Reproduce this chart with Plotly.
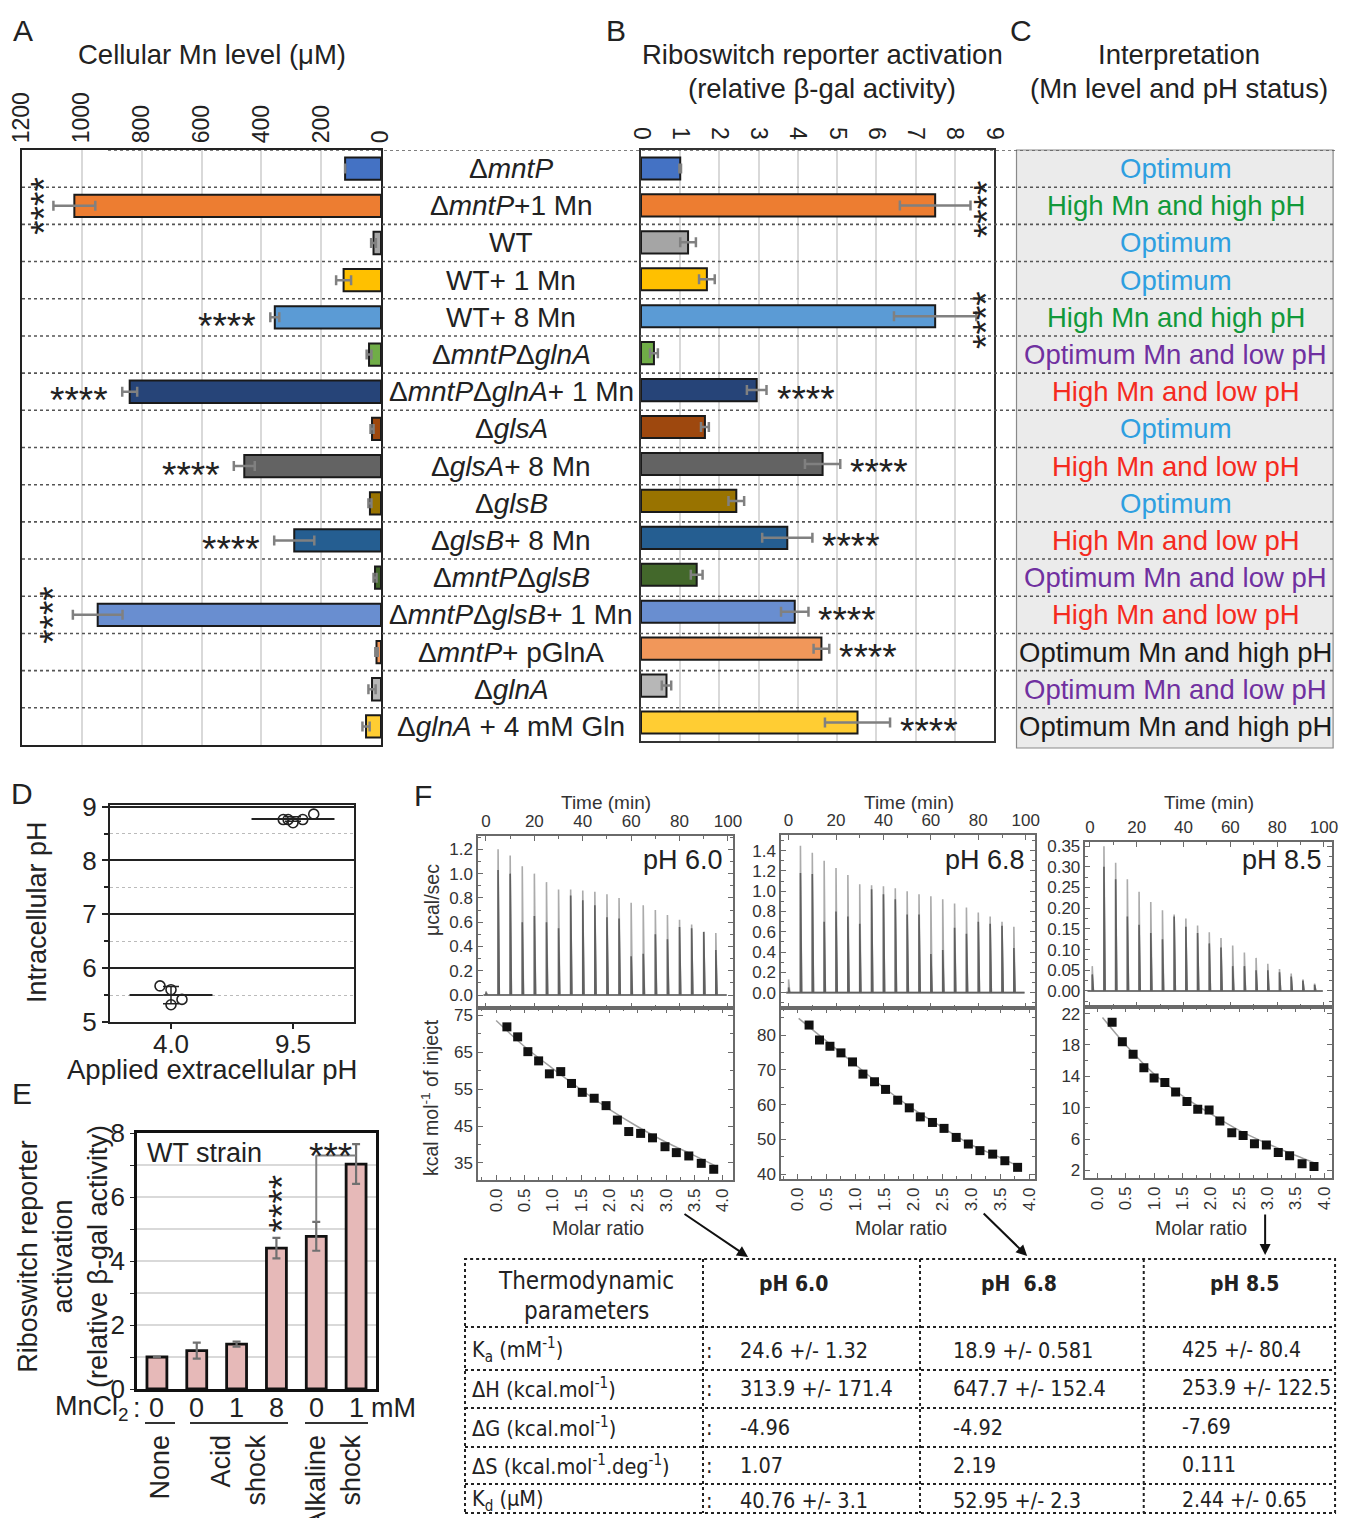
import plotly.graph_objects as go

OFF = 8                      # page body margin of the html page
W, H = 1347 - OFF, 1526 - 2 * OFF
VIS_R = 1337                 # right-most visible pixel column of the photographed page
def mx(p):
    # keep the right-most region inside the visible part of the page
    return p if p <= 1000 else 1000 + (p - 1000) * (VIS_R - 1000) / (1347 - 1000)
def fx(p): return (mx(p) - OFF) / W
def fy(p): return 1 - (p - OFF) / H

FONT = "Arial, 'Liberation Sans', sans-serif"
NARROW = "'Liberation Sans Narrow', 'Arial Narrow', 'DejaVu Sans Condensed', sans-serif"
TXT = "#222222"

# ---------------- data : panels A, B, C ----------------
strains = ["Δ<i>mntP</i>", "Δ<i>mntP</i>+1 Mn", "WT", "WT+ 1 Mn", "WT+ 8 Mn",
           "Δ<i>mntP</i>Δ<i>glnA</i>", "Δ<i>mntP</i>Δ<i>glnA</i>+ 1 Mn", "Δ<i>glsA</i>",
           "Δ<i>glsA</i>+ 8 Mn", "Δ<i>glsB</i>", "Δ<i>glsB</i>+ 8 Mn", "Δ<i>mntP</i>Δ<i>glsB</i>",
           "Δ<i>mntP</i>Δ<i>glsB</i>+ 1 Mn", "Δ<i>mntP</i>+ pGlnA", "Δ<i>glnA</i>",
           "Δ<i>glnA</i> + 4 mM Gln"]
bar_colors = ["#4472C4", "#ED7D31", "#A5A5A5", "#FFC000", "#5B9BD5", "#70AD47", "#264478",
              "#9E480E", "#636363", "#997300", "#255E91", "#43682B", "#698ED0", "#F1975A",
              "#B7B7B7", "#FFCD33"]
mn_level = [120, 1025, 25, 125, 355, 40, 840, 30, 457, 37, 290, 20, 947, 15, 30, 50]
mn_err = [0, 70, 8, 25, 15, 8, 25, 5, 35, 5, 67, 5, 83, 4, 12, 12]
mn_sig = ["", "****", "", "", "****", "", "****", "", "****", "", "****", "", "****", "", "", ""]
ribo_act = [1.0, 7.5, 1.2, 1.68, 7.5, 0.33, 2.95, 1.63, 4.63, 2.43, 3.73, 1.42, 3.92, 4.6, 0.65, 5.52]
ribo_err = [0.02, 0.9, 0.2, 0.2, 1.05, 0.1, 0.25, 0.1, 0.45, 0.2, 0.64, 0.15, 0.35, 0.2, 0.12, 0.83]
ribo_sig = ["", "****", "", "", "****", "", "****", "", "****", "", "****", "", "****", "****", "", "****"]
interp_text = ["Optimum", "High Mn and high pH", "Optimum", "Optimum", "High Mn and high pH",
               "Optimum Mn and low pH", "High Mn and low pH", "Optimum", "High Mn and low pH",
               "Optimum", "High Mn and low pH", "Optimum Mn and low pH", "High Mn and low pH",
               "Optimum Mn and high pH", "Optimum Mn and low pH", "Optimum Mn and high pH"]
interp_colors = {"Optimum": "#2E9FE0", "High Mn and high pH": "#11993A",
                 "Optimum Mn and low pH": "#7030A0", "High Mn and low pH": "#F52A1E",
                 "Optimum Mn and high pH": "#1A1A1A"}
a_ticks = [0, 200, 400, 600, 800, 1000, 1200]
b_ticks = [0, 1, 2, 3, 4, 5, 6, 7, 8, 9]

# ---------------- data : panel D ----------------
d_groups = ["4.0", "9.5"]
d_pts_y = [[5.67, 5.60, 5.42, 5.32], [8.76, 8.76, 8.70, 8.76, 8.86]]
d_pts_dx = [[-0.09, 0.0, 0.09, 0.0], [-0.08, -0.04, 0.0, 0.08, 0.17]]
d_mean = [5.50, 8.77]
d_sd = [0.16, 0.04]
d_ticks = [5, 6, 7, 8, 9]

# ---------------- data : panel E ----------------
e_vals = [1.0, 1.2, 1.4, 4.4, 4.77, 7.03]
e_err = [0.0, 0.25, 0.08, 0.32, 0.45, 0.62]
e_mncl2 = ["0", "0", "1", "8", "0", "1"]
e_ticks = [0, 2, 4, 6, 8]

# ---------------- data : panel F (ITC) ----------------
inj_t_60 = [0, 5, 10, 15, 20, 25, 30, 35, 40, 45, 50, 55, 60, 65, 70, 75, 80, 85, 90, 95]
peak_60 = [0.03, 1.20, 1.15, 1.06, 1.00, 0.93, 0.87, 0.87, 0.86, 0.85, 0.83, 0.80, 0.76,
           0.74, 0.70, 0.66, 0.62, 0.58, 0.52, 0.51]
dark_60 = [0.02, 1.03, 1.00, 0.60, 0.65, 0.60, 0.55, 0.82, 0.78, 0.74, 0.64, 0.63, 0.32,
           0.34, 0.50, 0.46, 0.56, 0.55, 0.52, 0.37]
ratio_60 = [0.19, 0.38, 0.56, 0.75, 0.94, 1.14, 1.33, 1.52, 1.73, 1.94, 2.14, 2.34, 2.55,
            2.76, 2.98, 3.18, 3.40, 3.62, 3.84]
heat_60 = [71.8, 69.1, 65.1, 62.6, 59.1, 59.7, 56.5, 54.1, 52.5, 50.5, 46.6, 43.5, 43.0,
           41.8, 39.4, 37.8, 36.9, 34.9, 33.3]
fit_x_60 = [0.0, 0.5, 1.0, 1.5, 2.0, 2.5, 3.0, 3.5, 3.9]
fit_y_60 = [73.5, 66.5, 60.5, 54.8, 49.5, 44.8, 40.6, 37.0, 34.0]

inj_t_68 = [0, 5, 10, 15, 20, 25, 30, 35, 40, 45, 50, 55, 60, 65, 70, 75, 80, 85, 90, 95]
peak_68 = [0.13, 1.45, 1.38, 1.30, 1.23, 1.16, 1.07, 1.06, 1.05, 1.03, 1.00, 0.97, 0.95,
           0.92, 0.88, 0.84, 0.79, 0.75, 0.70, 0.65]
dark_68 = [0.05, 1.18, 1.17, 0.70, 0.80, 0.75, 0.68, 1.02, 0.97, 0.92, 0.77, 0.77, 0.38,
           0.42, 0.64, 0.58, 0.70, 0.68, 0.66, 0.44]
ratio_68 = [0.20, 0.38, 0.56, 0.75, 0.95, 1.13, 1.33, 1.52, 1.73, 1.93, 2.12, 2.33, 2.53,
            2.74, 2.95, 3.15, 3.37, 3.58, 3.80]
heat_68 = [82.9, 78.6, 76.8, 74.9, 72.3, 68.8, 66.6, 64.4, 61.3, 59.1, 56.5, 54.9, 53.2,
           50.6, 48.7, 46.8, 45.8, 43.9, 42.0]
fit_x_68 = [0.02, 0.5, 1.0, 1.5, 2.0, 2.5, 3.0, 3.5, 3.85]
fit_y_68 = [84.8, 78.3, 71.5, 64.8, 58.7, 53.5, 48.5, 44.8, 42.0]

inj_t_85 = [1, 6, 11, 16, 21, 26, 31, 36, 41, 46, 51, 56, 61, 66, 71, 76, 81, 86, 91, 96]
peak_85 = [0.06, 0.35, 0.31, 0.27, 0.24, 0.215, 0.195, 0.185, 0.175, 0.158, 0.142, 0.128,
           0.110, 0.093, 0.080, 0.066, 0.053, 0.042, 0.028, 0.018]
dark_85 = [0.04, 0.30, 0.27, 0.18, 0.16, 0.14, 0.125, 0.18, 0.155, 0.14, 0.115, 0.105,
           0.06, 0.06, 0.05, 0.05, 0.045, 0.035, 0.025, 0.015]
ratio_85 = [0.26, 0.44, 0.63, 0.82, 1.00, 1.19, 1.38, 1.58, 1.77, 1.97, 2.16, 2.37, 2.57,
            2.77, 2.98, 3.19, 3.39, 3.61, 3.82]
heat_85 = [20.9, 18.4, 16.8, 15.1, 13.8, 13.2, 12.0, 10.8, 9.8, 9.7, 8.3, 6.8, 6.45,
           5.4, 5.25, 4.28, 3.86, 2.85, 2.5]
fit_x_85 = [0.09, 0.5, 1.0, 1.5, 2.0, 2.5, 3.0, 3.5, 3.85]
fit_y_85 = [21.5, 18.0, 14.3, 11.5, 9.2, 7.1, 5.4, 3.9, 2.9]

time_ticks = [0, 20, 40, 60, 80, 100]
ratio_ticks = [0.0, 0.5, 1.0, 1.5, 2.0, 2.5, 3.0, 3.5, 4.0]
uticks_60 = [0.0, 0.2, 0.4, 0.6, 0.8, 1.0, 1.2]
uticks_68 = [0.0, 0.2, 0.4, 0.6, 0.8, 1.0, 1.2, 1.4]
uticks_85 = [0.0, 0.05, 0.10, 0.15, 0.20, 0.25, 0.30, 0.35]
lticks_60 = [35, 45, 55, 65, 75]
lticks_68 = [40, 50, 60, 70, 80]
lticks_85 = [2, 6, 10, 14, 18, 22]

# ---------------- data : table ----------------
tbl_headers = ["<b>pH 6.0</b>", "<b>pH  6.8</b>", "<b>pH 8.5</b>"]
tbl_params = ["K<sub>a</sub> (mM<sup>-1</sup>)", "ΔH (kcal.mol<sup>-1</sup>)",
              "ΔG (kcal.mol<sup>-1</sup>)", "ΔS (kcal.mol<sup>-1</sup>.deg<sup>-1</sup>)",
              "K<sub>d</sub> (μM)"]
tbl_60 = ["24.6 +/- 1.32", "313.9 +/- 171.4", "-4.96", "1.07", "40.76 +/- 3.1"]
tbl_68 = ["18.9 +/- 0.581", "647.7 +/- 152.4", "-4.92", "2.19", "52.95 +/- 2.3"]
tbl_85 = ["425 +/- 80.4", "253.9 +/- 122.5", "-7.69", "0.111", "2.44 +/- 0.65"]

# ====================================================================
fig = go.Figure()
ann = []
shapes = []
STAR = 37

def text(px, py, s, size=25, color=TXT, xanchor="center", yanchor="middle", angle=0,
         family=FONT, align="center"):
    ann.append(dict(xref="paper", yref="paper", x=fx(px), y=fy(py), text=s, showarrow=False,
                    font=dict(size=size, color=color, family=family), xanchor=xanchor,
                    yanchor=yanchor, textangle=angle, align=align))

def pline(x0, y0, x1, y1, color=TXT, width=2, dash="solid"):
    shapes.append(dict(type="line", xref="paper", yref="paper", x0=fx(x0), x1=fx(x1),
                       y0=fy(y0), y1=fy(y1), line=dict(color=color, width=width, dash=dash)))

# ---------------- Panel C background ----------------
shapes.append(dict(type="rect", xref="paper", yref="paper", x0=fx(1017), x1=fx(1343),
                   y0=fy(748), y1=fy(150), fillcolor="#EBEBEB",
                   line=dict(color="#8A8A8A", width=1.2), layer="below"))

# ---------------- Panel A ----------------
fig.add_trace(go.Bar(x=mn_level, y=strains, orientation="h", xaxis="x", yaxis="y",
                     marker=dict(color=bar_colors, line=dict(color="#1a1a1a", width=2)),
                     width=0.6,
                     error_x=dict(type="data", array=mn_err, color="#808080",
                                  thickness=2.5, width=5)))
# ---------------- Panel B ----------------
fig.add_trace(go.Bar(x=ribo_act, y=strains, orientation="h", xaxis="x2", yaxis="y2",
                     marker=dict(color=bar_colors, line=dict(color="#1a1a1a", width=2)),
                     width=0.6,
                     error_x=dict(type="data", array=ribo_err, color="#808080",
                                  thickness=2.5, width=5)))

# row separators (dotted) across A, labels, B, C
for i in range(1, 16):
    shapes.append(dict(type="line", xref="paper", yref="y", x0=fx(22), x1=fx(1345),
                       y0=i - 0.5, y1=i - 0.5,
                       line=dict(color="#555555", width=1.6, dash="dot")))
for yv in (-0.5, 15.55):
    shapes.append(dict(type="line", xref="paper", yref="y", x0=fx(108), x1=fx(1345),
                       y0=yv, y1=yv, line=dict(color="#555555", width=1.6, dash="dot")))

for i, s in enumerate(strains):
    ann.append(dict(xref="paper", yref="y", x=fx(511), y=i, text=s, showarrow=False,
                    font=dict(size=28, color=TXT, family=FONT), xanchor="center",
                    yanchor="middle"))
    ann.append(dict(xref="paper", yref="y", x=fx(1181), y=i, text=interp_text[i],
                    showarrow=False, font=dict(size=27.5, color=interp_colors[interp_text[i]],
                                               family=FONT), xanchor="center",
                    yanchor="middle"))

# significance stars panel A
for i, s in enumerate(mn_sig):
    if not s:
        continue
    if i in (1, 12):
        ann.append(dict(xref="paper", yref="y", x=fx(38 if i == 1 else 47), y=i, text=s,
                        showarrow=False, textangle=-90, xshift=7, xanchor="center",
                        yanchor="middle", font=dict(size=STAR, color=TXT, family=FONT)))
    else:
        ann.append(dict(xref="x", yref="y", x=mn_level[i] + mn_err[i], y=i, text=s,
                        showarrow=False, xanchor="right", yanchor="middle", xshift=-12,
                        yshift=-9, font=dict(size=STAR, color=TXT, family=FONT)))
# significance stars panel B
for i, s in enumerate(ribo_sig):
    if not s:
        continue
    if i in (1, 4):
        ann.append(dict(xref="paper", yref="y2", x=fx(980), y=i + 0.1, text=s,
                        showarrow=False, textangle=-90, xshift=7, xanchor="center",
                        yanchor="middle", font=dict(size=STAR, color=TXT, family=FONT)))
    else:
        ann.append(dict(xref="x2", yref="y2", x=ribo_act[i] + ribo_err[i], y=i, text=s,
                        showarrow=False, xanchor="left", yanchor="middle", xshift=8,
                        yshift=-9, font=dict(size=STAR, color=TXT, family=FONT)))

# titles
text(23, 30, "A", size=30)
text(616, 30, "B", size=30)
text(1022, 30, "C", size=30)
text(212, 55, "Cellular Mn level (μM)", size=27.5)
text(822, 55, "Riboswitch reporter activation", size=27.5)
text(822, 88, "(relative β-gal activity)", size=27.5)
text(1184, 55, "Interpretation", size=27.5)
text(1184, 88, "(Mn level and pH status)", size=27.5)

# ---------------- Panel D ----------------
for g in range(2):
    fig.add_trace(go.Scatter(x=[g - 0.34, g + 0.34], y=[d_mean[g], d_mean[g]], mode="lines",
                             line=dict(color="#222", width=2), xaxis="x3", yaxis="y3",
                             hoverinfo="skip"))
    fig.add_trace(go.Scatter(x=[g], y=[d_mean[g]], mode="markers",
                             marker=dict(size=1, color="#222"),
                             error_y=dict(type="data", array=[d_sd[g]], color="#222",
                                          thickness=1.5, width=8),
                             xaxis="x3", yaxis="y3"))
    fig.add_trace(go.Scatter(x=[g + dx for dx in d_pts_dx[g]], y=d_pts_y[g], mode="markers",
                             marker=dict(symbol="circle-open", size=10, color="#222",
                                         line=dict(width=1.6)),
                             xaxis="x3", yaxis="y3"))
text(22, 793, "D", size=30)
text(37, 912, "Intracellular pH", size=27, angle=-90)
text(212, 1069, "Applied extracellular pH", size=27.5)

# ---------------- Panel E ----------------
fig.add_trace(go.Bar(x=list(range(6)), y=e_vals, xaxis="x4", yaxis="y4", width=0.5,
                     marker=dict(color="#E6B9B8", line=dict(color="#111", width=2.8)),
                     error_y=dict(type="data", array=e_err, color="#707070", thickness=2.2,
                                  width=4)))
text(22, 1093, "E", size=30)
text(63, 1257, "Riboswitch reporter<br>activation<br>(relative β-gal activity)", size=27,
     angle=-90)
text(204, 1153, "WT strain", size=27)
ann.append(dict(xref="x4", yref="y4", x=3, y=e_vals[3] + e_err[3], text="****",
                showarrow=False, textangle=-90, xanchor="center", yanchor="bottom", yshift=4,
                xshift=7, font=dict(size=STAR, color=TXT, family=FONT)))
br_top = 7.3
shapes.append(dict(type="line", xref="x4", yref="y4", x0=4, x1=4,
                   y0=e_vals[4] + e_err[4], y1=br_top, line=dict(color="#808080", width=2)))
shapes.append(dict(type="line", xref="x4", yref="y4", x0=4, x1=5, y0=br_top, y1=br_top,
                   line=dict(color="#808080", width=2)))
ann.append(dict(xref="x4", yref="y4", x=4.35, y=7.56, text="***", showarrow=False,
                xanchor="center", yanchor="middle", yshift=-9,
                font=dict(size=STAR, color=TXT, family=FONT)))
text(92, 1408, "MnCl<sub>2</sub>", size=27)
text(137, 1408, ":", size=27)
for i, v in enumerate(e_mncl2):
    ann.append(dict(xref="x4", yref="paper", x=i, y=fy(1408), text=v, showarrow=False,
                    xanchor="center", yanchor="middle",
                    font=dict(size=27, color=TXT, family=FONT)))
text(393, 1408, "mM", size=27)
pline(145, 1423, 175, 1423, "#333", 2)
pline(190, 1423, 288, 1423, "#333", 2)
pline(305, 1423, 368, 1423, "#333", 2)
text(159, 1433, "None", size=27, angle=-90, yanchor="top")
text(238, 1433, "Acid<br>shock", size=27, angle=-90, yanchor="top", align="right")
text(333, 1433, "Alkaline<br>shock", size=27, angle=-90, yanchor="top", align="right")

# ---------------- Panel F ----------------
itc = [
    dict(L=478, R=733, top=836, mid=1008, bot=1180, tr=[-3.3, 102.1], ur=[-0.107, 1.31],
         ut=uticks_60, uf=".1f", umin=0.1, rr=[-0.32, 4.18], lr=[30.4, 76.9], lt=lticks_60,
         lmin=5, t=inj_t_60, p=peak_60, d=dark_60, rx=ratio_60, hy=heat_60, fxs=fit_x_60,
         fys=fit_y_60, lab="pH 6.0", n=5),
    dict(L=781, R=1036, top=835, mid=1008, bot=1179, tr=[-3.2, 103.9], ur=[-0.152, 1.555],
         ut=uticks_68, uf=".1f", umin=0.1, rr=[-0.285, 4.1], lr=[38.65, 87.8], lt=lticks_68,
         lmin=5, t=inj_t_68, p=peak_68, d=dark_68, rx=ratio_68, hy=heat_68, fxs=fit_x_68,
         fys=fit_y_68, lab="pH 6.8", n=7),
    dict(L=1088, R=1342, top=842, mid=1007, bot=1178, tr=[-1.9, 103.5], ur=[-0.0387, 0.360],
         ut=uticks_85, uf=".2f", umin=0.025, rr=[-0.21, 4.14], lr=[1.03, 22.84], lt=lticks_85,
         lmin=2, t=inj_t_85, p=peak_85, d=dark_85, rx=ratio_85, hy=heat_85, fxs=fit_x_85,
         fys=fit_y_85, lab="pH 8.5", n=9),
]
axes = {}
AX = "#6A6A6A"
TF = dict(size=17, color="#333", family=FONT)
for c in itc:
    n = c["n"]
    xu, yu, xl, yl = f"x{n}", f"y{n}", f"x{n+1}", f"y{n+1}"
    xs, ys, xd, yd = [-1.0], [0.0], [-1.0], [0.0]
    for t, p, d in zip(c["t"], c["p"], c["d"]):
        xs += [t, t, t + 0.5]
        ys += [0, p, 0]
        xd += [t, t, t + 0.5]
        yd += [0, d, 0]
    xs.append(99.5); ys.append(0.0)
    xd.append(99.5); yd.append(0.0)
    fig.add_trace(go.Scatter(x=xs, y=ys, mode="lines", line=dict(color="#ABABAB", width=1.6),
                             xaxis=xu, yaxis=yu))
    fig.add_trace(go.Scatter(x=xd, y=yd, mode="lines", line=dict(color="#606060", width=1.6),
                             xaxis=xu, yaxis=yu))
    fig.add_trace(go.Scatter(x=c["fxs"], y=c["fys"], mode="lines", line_shape="spline",
                             line=dict(color="#A0A0A0", width=1.5), xaxis=xl, yaxis=yl))
    fig.add_trace(go.Scatter(x=c["rx"], y=c["hy"], mode="markers",
                             marker=dict(symbol="square", size=9, color="#111"),
                             xaxis=xl, yaxis=yl))
    common = dict(showline=True, linecolor=AX, linewidth=1.5, mirror="ticks", ticks="inside",
                  ticklen=5, tickcolor=AX, showgrid=False, zeroline=False, tickfont=TF,
                  automargin=False, ticklabeloverflow="allow")
    axes[f"xaxis{n}"] = dict(domain=[fx(c["L"]), fx(c["R"])], anchor=yu, range=c["tr"],
                             side="top", tickvals=time_ticks,
                             minor=dict(dtick=10, ticks="inside", ticklen=3, tickcolor=AX),
                             **common)
    axes[f"yaxis{n}"] = dict(domain=[fy(c["mid"]), fy(c["top"])], anchor=xu, range=c["ur"],
                             tickvals=c["ut"], tickformat=c["uf"],
                             minor=dict(dtick=c["umin"], tick0=0, ticks="inside", ticklen=3,
                                        tickcolor=AX), **common)
    axes[f"xaxis{n+1}"] = dict(domain=[fx(c["L"]), fx(c["R"])], anchor=yl, range=c["rr"],
                               tickvals=ratio_ticks, tickformat=".1f", tickangle=-90,
                               minor=dict(dtick=0.25, ticks="inside", ticklen=3,
                                          tickcolor=AX), **common)
    axes[f"yaxis{n+1}"] = dict(domain=[fy(c["bot"]), fy(c["mid"])], anchor=xl, range=c["lr"],
                               tickvals=c["lt"],
                               minor=dict(dtick=c["lmin"], tick0=c["lt"][0], ticks="inside",
                                          ticklen=3, tickcolor=AX), **common)
    cx = (c["L"] + c["R"]) / 2
    text(cx, 802, "Time (min)", size=19, color="#333")
    text(cx - 8, 1228, "Molar ratio", size=19.5, color="#333")
    text(c["R"] - 8, 860, c["lab"], size=27, color=TXT, xanchor="right")

text(423, 795, "F", size=30)
text(432, 900, "μcal/sec", size=19.5, angle=-90, color="#333")
text(430, 1098, "kcal mol<sup>-1</sup> of inject", size=19.5, angle=-90, color="#333")

# arrows
for hx, hy, axp, ayp in [(748, 1257, -65, -44), (1028, 1256, -45, -44), (1273, 1255, 0, -42)]:
    ann.append(dict(xref="paper", yref="paper", x=fx(hx), y=fy(hy), ax=axp, ay=ayp,
                    showarrow=True, arrowhead=2, arrowsize=1.1, arrowwidth=2,
                    arrowcolor="#111", text=""))

# ---------------- Table ----------------
TD = dict(color="#222", width=2, dash="dot")
TB = 1513
shapes.append(dict(type="rect", xref="paper", yref="paper", x0=fx(465), x1=fx(1345),
                   y0=fy(TB), y1=fy(1259), line=TD))
for yy in [1327, 1370, 1408, 1447, 1484]:
    pline(465, yy, 1345, yy, **TD)
for xx in [703, 920, 1148]:
    pline(xx, 1259, xx, TB, **TD)
text(586, 1281, "Thermodynamic", size=24, family=NARROW)
text(586, 1311, "parameters", size=24, family=NARROW)
for hx, h in zip([794, 1020, 1252], tbl_headers):
    text(hx, 1284, h, size=21, family=NARROW)
row_y = [1350, 1388, 1427, 1465, 1500]
for ry, par, v1, v2, v3 in zip(row_y, tbl_params, tbl_60, tbl_68, tbl_85):
    text(470, ry, par, size=21.5, family=NARROW, xanchor="left")
    text(709, ry, ":", size=21.5, family=NARROW)
    text(738, ry, v1, size=21.5, family=NARROW, xanchor="left")
    text(951, ry, v2, size=21.5, family=NARROW, xanchor="left")
    text(1185, ry, v3, size=21, family=NARROW, xanchor="left")

# ---------------- Layout ----------------
ax_a = dict(domain=[fx(22), fx(381)], anchor="y", range=[1200, 0], side="top",
            tickvals=a_ticks, tickangle=-90, tickfont=dict(size=23, color=TXT),
            showgrid=True, gridcolor="#D9D9D9", gridwidth=1.6, zeroline=False,
            showline=True, linecolor="#222", linewidth=2.2, mirror=True, ticks="")
ay_a = dict(domain=[fy(745), fy(150)], anchor="x", type="category", categoryorder="array",
            categoryarray=strains, range=[15.5, -0.5], showticklabels=False, showgrid=False,
            zeroline=False, showline=True, linecolor="#222", linewidth=2.2, mirror=True,
            ticks="")
ax_b = dict(domain=[fx(641), fx(994)], anchor="y2", range=[0, 9], side="top",
            tickvals=b_ticks, tickangle=90, tickfont=dict(size=23, color=TXT),
            showgrid=True, gridcolor="#D9D9D9", gridwidth=1.6, zeroline=False,
            showline=True, linecolor="#333", linewidth=2.2, mirror=True, ticks="")
ay_b = dict(domain=[fy(741), fy(150)], anchor="x2", type="category", categoryorder="array",
            categoryarray=strains, range=[15.5, -0.5], showticklabels=False, showgrid=False,
            zeroline=False, showline=True, linecolor="#333", linewidth=2.2, mirror=True,
            ticks="")
ax_d = dict(domain=[fx(110), fx(354)], anchor="y3", range=[-0.5, 1.5], tickvals=[0, 1],
            ticktext=d_groups, ticks="outside", ticklen=5, tickwidth=2, tickcolor="#222",
            showline=True, linecolor="#222", linewidth=2.2, mirror=True, showgrid=False,
            zeroline=False, tickfont=dict(size=26, color=TXT), ticklabelstandoff=-7)
ay_d = dict(domain=[fy(1022), fy(805)], anchor="x3", range=[5, 9.03], tickvals=d_ticks,
            ticks="outside", ticklen=6, tickwidth=2, tickcolor="#222", showline=True,
            linecolor="#222", linewidth=2.2, mirror=True, showgrid=True, gridcolor="#222",
            gridwidth=1.5, zeroline=False, tickfont=dict(size=26, color=TXT),
            minor=dict(dtick=0.5, tick0=5, ticks="outside", ticklen=4, tickcolor="#222",
                       showgrid=True, gridcolor="#BBBBBB", griddash="dot", gridwidth=1.2))
ax_e = dict(domain=[fx(137), fx(376)], anchor="y4", range=[-0.5, 5.5], showticklabels=False,
            ticks="", showline=True, linecolor="#111", linewidth=2.5, mirror=True,
            showgrid=False, zeroline=False)
ay_e = dict(domain=[fy(1389), fy(1133)], anchor="x4", range=[0, 8], tickvals=e_ticks,
            ticks="outside", ticklen=4, tickcolor="#222", showline=True, linecolor="#111",
            linewidth=2.5, mirror=True, showgrid=True, gridcolor="#D9D9D9", gridwidth=2,
            zeroline=False, tickfont=dict(size=26, color=TXT),
            minor=dict(dtick=1, ticks="outside", ticklen=4, tickcolor="#222", showgrid=True,
                       gridcolor="#D9D9D9", gridwidth=2))
for a in (ax_a, ay_a, ax_b, ay_b, ax_d, ay_d, ax_e, ay_e):
    a["automargin"] = False

fig.update_layout(width=W, height=H, margin=dict(l=0, r=0, t=0, b=0, pad=0), showlegend=False,
                  autosize=False, paper_bgcolor="white", plot_bgcolor="white",
                  font=dict(family=FONT, color=TXT),
                  xaxis=ax_a, yaxis=ay_a, xaxis2=ax_b, yaxis2=ay_b, xaxis3=ax_d, yaxis3=ay_d,
                  xaxis4=ax_e, yaxis4=ay_e, annotations=ann, shapes=shapes, bargap=0.4)
fig.update_layout(**axes)
fig.write_html("out.html")
